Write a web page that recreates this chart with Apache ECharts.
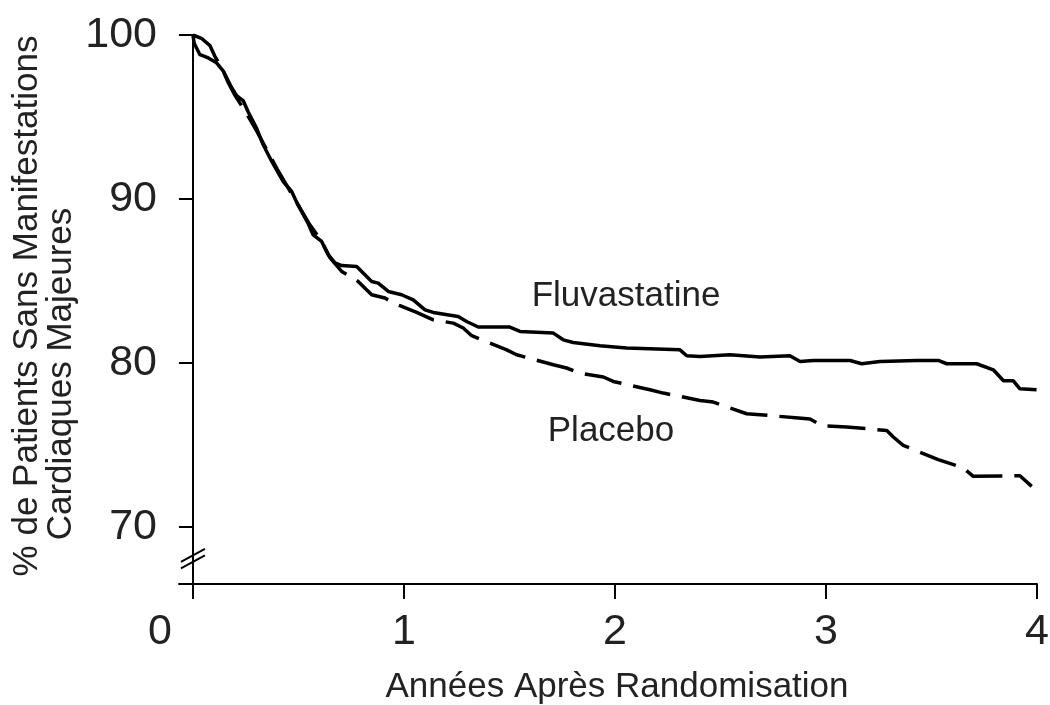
<!DOCTYPE html>
<html>
<head>
<meta charset="utf-8">
<script src="https://cdn.jsdelivr.net/npm/echarts@6/dist/echarts.min.js"></script>
<style>
  html, body { margin: 0; padding: 0; background: #fff; }
  #chart { width: 1050px; height: 705px; }
</style>
</head>
<body>
<div id="chart"></div>
<script>
// courbes de survie sans événement (années, %)
var xTicks = [0, 1, 2, 3, 4];
var yTicks = [70, 80, 90, 100];

var fluvastatine = [
  [0, 100], [0.006, 99.5], [0.033, 98.8], [0.073, 98.6], [0.112, 98.3], [0.144, 97.8],
  [0.183, 96.8], [0.207, 96.3], [0.238, 96.0], [0.262, 95.3], [0.302, 94.3], [0.333, 93.3],
  [0.373, 92.3], [0.428, 91.05], [0.468, 90.45], [0.499, 89.6], [0.546, 88.5], [0.57, 87.8],
  [0.61, 87.4], [0.641, 86.6], [0.673, 86.1], [0.705, 85.93], [0.776, 85.87], [0.815, 85.37],
  [0.847, 84.96], [0.878, 84.86], [0.926, 84.35], [0.989, 84.15], [1.044, 83.84], [1.1, 83.23],
  [1.139, 83.07], [1.257, 82.82], [1.297, 82.52], [1.352, 82.18], [1.502, 82.18], [1.55, 81.91],
  [1.708, 81.81], [1.755, 81.4], [1.802, 81.24], [1.929, 81.04], [2.055, 80.9], [2.308, 80.79],
  [2.34, 80.43], [2.403, 80.38], [2.545, 80.49], [2.687, 80.35], [2.829, 80.43], [2.877, 80.08],
  [2.94, 80.14], [3.114, 80.14], [3.169, 79.94], [3.256, 80.08], [3.43, 80.14], [3.532, 80.14],
  [3.572, 79.94], [3.714, 79.94], [3.793, 79.57], [3.841, 78.9], [3.888, 78.9], [3.919, 78.41],
  [3.998, 78.35]
];

var placebo = [
  [0, 100], [0.04, 99.8], [0.081, 99.35], [0.104, 98.7], [0.14, 97.9], [0.167, 97.1],
  [0.2, 96.3], [0.25, 95.3], [0.3, 94.2], [0.35, 93.0], [0.4, 91.8], [0.452, 90.65],
  [0.5, 89.6], [0.55, 88.5], [0.61, 87.4], [0.65, 86.4], [0.705, 85.57], [0.783, 84.96],
  [0.847, 84.15], [0.91, 83.95], [0.957, 83.6], [0.981, 83.48], [1.06, 83.07], [1.139, 82.62],
  [1.234, 82.42], [1.281, 82.12], [1.321, 81.65], [1.487, 80.79], [1.534, 80.49], [1.708, 79.88],
  [1.771, 79.68], [1.834, 79.37], [1.945, 79.13], [1.992, 78.86], [2.166, 78.35], [2.229, 78.15],
  [2.403, 77.7], [2.466, 77.6], [2.545, 77.24], [2.624, 76.89], [2.687, 76.83], [2.869, 76.63],
  [2.924, 76.57], [2.98, 76.16], [3.098, 76.08], [3.288, 75.87], [3.319, 75.47], [3.366, 74.96],
  [3.532, 74.09], [3.651, 73.58], [3.698, 73.07], [3.919, 73.11], [3.975, 72.46]
];

var font = 'Liberation Sans, Arial, sans-serif';
var ink = '#222';

var myChart = echarts.init(document.getElementById('chart'));
var option = {
  animation: false,
  grid: { left: 179, right: 13, top: 35, bottom: 121, containLabel: false, outerBoundsMode: 'none' },
  xAxis: {
    type: 'value',
    min: -0.066,
    max: 4,
    name: 'Années Après Randomisation',
    nameLocation: 'middle',
    nameGap: 86,
    nameTextStyle: { fontSize: 35, color: ink, fontFamily: font, padding: [0, 0, 0, 18] },
    axisLine: { lineStyle: { color: '#000', width: 2 } },
    axisTick: { show: true, length: 15, lineStyle: { color: '#000', width: 2 }, customValues: xTicks },
    axisLabel: {
      customValues: xTicks,
      margin: 27,
      fontSize: 43,
      color: ink,
      fontFamily: font,
      formatter: function (v) { return v === 0 ? '{z|0}' : String(v); },
      rich: { z: { fontSize: 43, color: ink, fontFamily: font, padding: [0, 66, 0, 0] } }
    },
    splitLine: { show: false }
  },
  yAxis: {
    type: 'value',
    min: 66.5,
    max: 100,
    axisLine: { onZero: true, lineStyle: { color: '#000', width: 2 } },
    axisTick: { show: true, length: 14, lineStyle: { color: '#000', width: 2 }, customValues: yTicks },
    axisLabel: { customValues: yTicks, margin: 22, fontSize: 43, color: ink, fontFamily: font },
    splitLine: { show: false }
  },
  series: [
    {
      name: 'Fluvastatine',
      type: 'line',
      data: fluvastatine,
      symbol: 'none',
      lineStyle: { color: '#000', width: 3.5 },
      z: 3
    },
    {
      name: 'Placebo',
      type: 'line',
      data: placebo,
      symbol: 'none',
      lineStyle: { color: '#000', width: 3.5, type: [38, 12] },
      z: 2
    }
  ],
  graphic: [
    {
      type: 'text', x: 27, y: 306, rotation: Math.PI / 2,
      style: { text: '% de Patients Sans Manifestations', fontSize: 35, fontFamily: font, fill: ink, align: 'center', verticalAlign: 'middle' }
    },
    {
      type: 'text', x: 61, y: 374, rotation: Math.PI / 2,
      style: { text: 'Cardiaques Majeures', fontSize: 35, fontFamily: font, fill: ink, align: 'center', verticalAlign: 'middle' }
    },
    {
      type: 'text', x: 626, y: 296,
      style: { text: 'Fluvastatine', fontSize: 35, fontFamily: font, fill: ink, align: 'center', verticalAlign: 'middle' }
    },
    {
      type: 'text', x: 611, y: 431,
      style: { text: 'Placebo', fontSize: 35, fontFamily: font, fill: ink, align: 'center', verticalAlign: 'middle' }
    }
  ]
};
myChart.setOption(option);

// coupure de l'axe des ordonnées (//)
var c1 = myChart.convertToPixel({ gridIndex: 0 }, [0, 68.25]);
var c2 = myChart.convertToPixel({ gridIndex: 0 }, [0, 67.85]);
function slash(c) {
  return {
    type: 'line',
    shape: { x1: c[0] - 12, y1: c[1] + 6.5, x2: c[0] + 12, y2: c[1] - 6.5 },
    style: { stroke: '#000', lineWidth: 2 }
  };
}
myChart.setOption({ graphic: option.graphic.concat([slash(c1), slash(c2)]) });
</script>
</body>
</html>
